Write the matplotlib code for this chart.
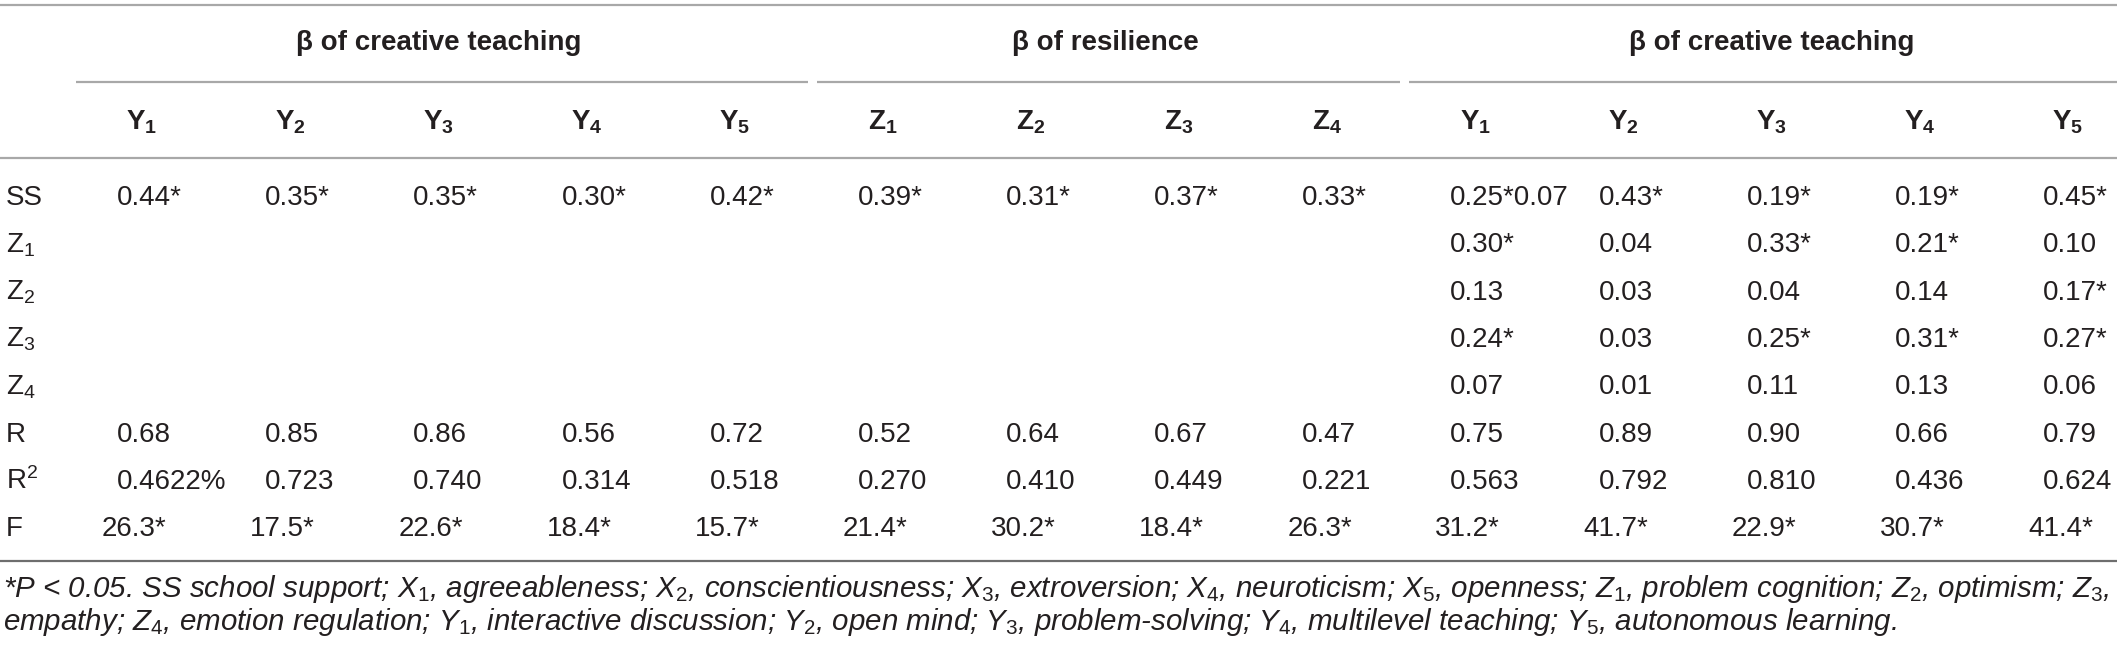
import matplotlib
matplotlib.use('Agg')
import matplotlib.pyplot as plt

plt.rcParams['font.family'] = ['Liberation Sans', 'DejaVu Sans']
plt.rcParams['mathtext.fontset'] = 'custom'
plt.rcParams['mathtext.rm'] = 'Liberation Sans'
plt.rcParams['mathtext.it'] = 'Liberation Sans:italic'
plt.rcParams['mathtext.bf'] = 'Liberation Sans:bold'

# ---------------- data ----------------
group_titles = ['β of creative teaching', 'β of resilience', 'β of creative teaching']
group_headers = [
    [r'$\mathbf{Y_1}$', r'$\mathbf{Y_2}$', r'$\mathbf{Y_3}$', r'$\mathbf{Y_4}$', r'$\mathbf{Y_5}$'],
    [r'$\mathbf{Z_1}$', r'$\mathbf{Z_2}$', r'$\mathbf{Z_3}$', r'$\mathbf{Z_4}$'],
    [r'$\mathbf{Y_1}$', r'$\mathbf{Y_2}$', r'$\mathbf{Y_3}$', r'$\mathbf{Y_4}$', r'$\mathbf{Y_5}$'],
]
row_labels = ['SS', r'$\mathrm{Z_1}$', r'$\mathrm{Z_2}$', r'$\mathrm{Z_3}$', r'$\mathrm{Z_4}$',
              'R', r'R$^2$', 'F']

# group 1: beta of creative teaching (Y1..Y5)
ss_g1 = ['0.44*', '0.35*', '0.35*', '0.30*', '0.42*']
r_g1 = ['0.68', '0.85', '0.86', '0.56', '0.72']
rsq_g1 = ['0.4622%', '0.723', '0.740', '0.314', '0.518']
f_g1 = ['26.3*', '17.5*', '22.6*', '18.4*', '15.7*']

# group 2: beta of resilience (Z1..Z4)
ss_g2 = ['0.39*', '0.31*', '0.37*', '0.33*']
r_g2 = ['0.52', '0.64', '0.67', '0.47']
rsq_g2 = ['0.270', '0.410', '0.449', '0.221']
f_g2 = ['21.4*', '30.2*', '18.4*', '26.3*']

# group 3: beta of creative teaching (Y1..Y5)
ss_g3 = ['0.25*0.07', '0.43*', '0.19*', '0.19*', '0.45*']
z1_g3 = ['0.30*', '0.04', '0.33*', '0.21*', '0.10']
z2_g3 = ['0.13', '0.03', '0.04', '0.14', '0.17*']
z3_g3 = ['0.24*', '0.03', '0.25*', '0.31*', '0.27*']
z4_g3 = ['0.07', '0.01', '0.11', '0.13', '0.06']
r_g3 = ['0.75', '0.89', '0.90', '0.66', '0.79']
rsq_g3 = ['0.563', '0.792', '0.810', '0.436', '0.624']
f_g3 = ['31.2*', '41.7*', '22.9*', '30.7*', '41.4*']

footnote_1 = (r'*P < 0.05. SS school support; $X_1$, agreeableness; $X_2$, conscientiousness; '
              r'$X_3$, extroversion; $X_4$, neuroticism; $X_5$, openness; $Z_1$, problem cognition; '
              r'$Z_2$, optimism; $Z_3$,')
footnote_2 = (r'empathy; $Z_4$, emotion regulation; $Y_1$, interactive discussion; $Y_2$, open mind; '
              r'$Y_3$, problem-solving; $Y_4$, multilevel teaching; $Y_5$, autonomous learning.')

# ---------------- assemble rows ----------------
blank_12 = [''] * 9
rows = [
    ss_g1 + ss_g2 + ss_g3,
    blank_12 + z1_g3,
    blank_12 + z2_g3,
    blank_12 + z3_g3,
    blank_12 + z4_g3,
    r_g1 + r_g2 + r_g3,
    rsq_g1 + rsq_g2 + rsq_g3,
    f_g1 + f_g2 + f_g3,
]

# ---------------- layout ----------------
W, H = 2117, 646
fig = plt.figure(figsize=(W / 100, H / 100), dpi=100)
ax = fig.add_axes([0, 0, 1, 1])
ax.set_xlim(0, W)
ax.set_ylim(H, 0)
ax.axis('off')

TXT = '#231f20'
LIGHT = '#a8a8a8'
DARK = '#6e6e6e'
FS = 20

n_cols = sum(len(g) for g in group_headers)
col_x0, col_dx = 117, 148.15
col_x = [col_x0 + i * col_dx for i in range(n_cols)]
row_y0, row_dy = 205, 47.3
row_y = [row_y0 + i * row_dy for i in range(len(rows))]
hdr_off = 25

# rules
ax.plot([0, W], [5, 5], color=LIGHT, lw=1.6, solid_capstyle='butt')
ax.plot([0, W], [158, 158], color=LIGHT, lw=1.6, solid_capstyle='butt')
ax.plot([0, W], [561, 561], color=DARK, lw=1.6, solid_capstyle='butt')

# group titles, underlines, column headers
start = 0
for gi, (title, hdrs) in enumerate(zip(group_titles, group_headers)):
    idx = list(range(start, start + len(hdrs)))
    centers = [col_x[i] + hdr_off for i in idx]
    ax.text(sum(centers) / len(centers), 50, title, ha='center', va='baseline',
            fontsize=FS, fontweight='bold', color=TXT)
    x_a = col_x[idx[0]] - 45 + 4
    x_b = col_x[idx[-1] + 1] - 45 - 5 if idx[-1] + 1 < n_cols else W
    ax.plot([x_a, x_b], [82, 82], color=LIGHT, lw=1.6, solid_capstyle='butt')
    for i, h in zip(idx, hdrs):
        ax.text(col_x[i] + hdr_off, 130, h, ha='center', va='baseline',
                fontsize=FS, color=TXT)
    start += len(hdrs)

# body
for ri, (lab, vals) in enumerate(zip(row_labels, rows)):
    ax.text(6, row_y[ri], lab, ha='left', va='baseline', fontsize=FS, color=TXT)
    shift = -15 if lab == 'F' else 0
    for ci, v in enumerate(vals):
        if v:
            ax.text(col_x[ci] + shift, row_y[ri], v, ha='left', va='baseline',
                    fontsize=FS, color=TXT)

# footnote, fitted to the table width
t1 = ax.text(3, 597, footnote_1, ha='left', va='baseline', fontsize=FS,
             style='italic', color=TXT)
t2 = ax.text(3, 630, footnote_2, ha='left', va='baseline', fontsize=FS,
             style='italic', color=TXT)
fig.canvas.draw()
bb = t1.get_window_extent()
fs_fit = FS * (2105 / bb.width)
t1.set_fontsize(fs_fit)
t2.set_fontsize(fs_fit)

fig.savefig('out.png', dpi=100, facecolor='white')
